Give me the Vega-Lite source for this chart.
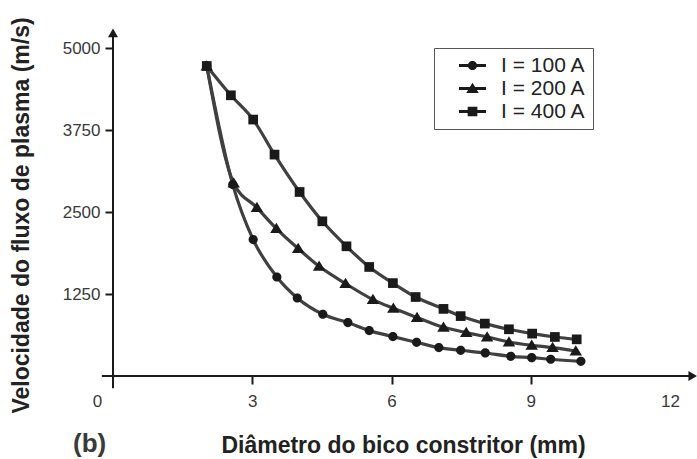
{
  "$schema": "https://vega.github.io/schema/vega-lite/v6.json",
  "width": 557,
  "height": 328,
  "autosize": {"type": "none"},
  "padding": {"left": 113, "top": 48, "right": 27, "bottom": 83},
  "background": "white",
  "config": {"view": {"stroke": null}, "font": "Liberation Sans"},
  "title": {"text": "(b)", "orient": "bottom", "anchor": "start", "frame": "group", "dx": -40, "dy": -26, "offset": 0, "fontSize": 26, "fontWeight": "bold", "color": "#3a3a3a", "font": "Liberation Sans"},
  "data": {"values": [
    {"d": 2.02, "v": 4726, "s": "I = 100 A"},
    {"d": 2.58, "v": 2918, "s": "I = 100 A"},
    {"d": 3.02, "v": 2079, "s": "I = 100 A"},
    {"d": 3.53, "v": 1509, "s": "I = 100 A"},
    {"d": 3.97, "v": 1189, "s": "I = 100 A"},
    {"d": 4.52, "v": 941, "s": "I = 100 A"},
    {"d": 5.06, "v": 814, "s": "I = 100 A"},
    {"d": 5.52, "v": 692, "s": "I = 100 A"},
    {"d": 6.03, "v": 601, "s": "I = 100 A"},
    {"d": 6.54, "v": 514, "s": "I = 100 A"},
    {"d": 7.02, "v": 433, "s": "I = 100 A"},
    {"d": 7.49, "v": 392, "s": "I = 100 A"},
    {"d": 8.02, "v": 351, "s": "I = 100 A"},
    {"d": 8.57, "v": 300, "s": "I = 100 A"},
    {"d": 9.02, "v": 280, "s": "I = 100 A"},
    {"d": 9.43, "v": 255, "s": "I = 100 A"},
    {"d": 10.08, "v": 224, "s": "I = 100 A"},
    {"d": 2.02, "v": 4726, "s": "I = 200 A"},
    {"d": 2.6, "v": 2942, "s": "I = 200 A"},
    {"d": 3.1, "v": 2567, "s": "I = 200 A"},
    {"d": 3.52, "v": 2247, "s": "I = 200 A"},
    {"d": 3.99, "v": 1942, "s": "I = 200 A"},
    {"d": 4.44, "v": 1672, "s": "I = 200 A"},
    {"d": 5.01, "v": 1409, "s": "I = 200 A"},
    {"d": 5.6, "v": 1165, "s": "I = 200 A"},
    {"d": 6.04, "v": 1032, "s": "I = 200 A"},
    {"d": 6.55, "v": 892, "s": "I = 200 A"},
    {"d": 7.12, "v": 742, "s": "I = 200 A"},
    {"d": 7.61, "v": 662, "s": "I = 200 A"},
    {"d": 8.06, "v": 595, "s": "I = 200 A"},
    {"d": 8.53, "v": 518, "s": "I = 200 A"},
    {"d": 9.02, "v": 468, "s": "I = 200 A"},
    {"d": 9.47, "v": 433, "s": "I = 200 A"},
    {"d": 9.97, "v": 381, "s": "I = 200 A"},
    {"d": 2.02, "v": 4726, "s": "I = 400 A"},
    {"d": 2.54, "v": 4279, "s": "I = 400 A"},
    {"d": 3.02, "v": 3909, "s": "I = 400 A"},
    {"d": 3.48, "v": 3375, "s": "I = 400 A"},
    {"d": 4.02, "v": 2805, "s": "I = 400 A"},
    {"d": 4.51, "v": 2358, "s": "I = 400 A"},
    {"d": 5.03, "v": 1977, "s": "I = 400 A"},
    {"d": 5.52, "v": 1662, "s": "I = 400 A"},
    {"d": 6.03, "v": 1416, "s": "I = 400 A"},
    {"d": 6.52, "v": 1204, "s": "I = 400 A"},
    {"d": 7.12, "v": 1023, "s": "I = 400 A"},
    {"d": 7.49, "v": 913, "s": "I = 400 A"},
    {"d": 8.01, "v": 799, "s": "I = 400 A"},
    {"d": 8.53, "v": 712, "s": "I = 400 A"},
    {"d": 9.03, "v": 646, "s": "I = 400 A"},
    {"d": 9.52, "v": 595, "s": "I = 400 A"},
    {"d": 9.99, "v": 559, "s": "I = 400 A"}
  ]},
  "layer": [
    {
      "data": {"values": [{}]},
      "mark": {"type": "rule", "color": "#1a1a1a", "strokeWidth": 2},
      "encoding": {
        "x": {"datum": -0.24, "type": "quantitative"},
        "x2": {"datum": 12.49},
        "y": {"datum": 0, "type": "quantitative"}
      }
    },
    {
      "data": {"values": [{}]},
      "mark": {"type": "rule", "color": "#1a1a1a", "strokeWidth": 2},
      "encoding": {
        "x": {"datum": 0, "type": "quantitative"},
        "y": {"datum": -185, "type": "quantitative"},
        "y2": {"datum": 5230}
      }
    },
    {
      "data": {"values": [{}]},
      "mark": {"type": "point", "shape": "triangle-right", "filled": true, "color": "#1a1a1a", "size": 100, "opacity": 1},
      "encoding": {
        "x": {"datum": 12.49, "type": "quantitative"},
        "y": {"datum": 0, "type": "quantitative"}
      }
    },
    {
      "data": {"values": [{}]},
      "mark": {"type": "point", "shape": "triangle-up", "filled": true, "color": "#1a1a1a", "size": 100, "opacity": 1},
      "encoding": {
        "x": {"datum": 0, "type": "quantitative"},
        "y": {"datum": 5230, "type": "quantitative"}
      }
    },
    {
      "mark": {"type": "line", "interpolate": "monotone", "color": "#404040", "strokeWidth": 3.2},
      "encoding": {
        "x": {
          "field": "d", "type": "quantitative",
          "scale": {"domain": [0, 12], "nice": false, "zero": false},
          "axis": {
            "values": [0, 3, 6, 9, 12], "domain": false, "grid": false,
            "tickSize": 8, "tickWidth": 2, "tickColor": "#1a1a1a",
            "tickOpacity": {"condition": {"test": "datum.value == 0 || datum.value == 12", "value": 0}, "value": 1},
            "labelOffset": {"condition": {"test": "datum.value == 0", "value": -16}, "value": 0},
            "labelFlush": false, "labelFontSize": 17, "labelColor": "#3a3a3a", "labelPadding": 9, "labelFont": "Liberation Sans",
            "title": "Diâmetro do bico constritor (mm)", "titleFontSize": 23, "titleFontWeight": "bold", "titleColor": "#222222", "titleFont": "Liberation Sans",
            "titleX": 290, "titleY": 76, "titleBaseline": "alphabetic", "titleAlign": "center"
          }
        },
        "y": {
          "field": "v", "type": "quantitative",
          "scale": {"domain": [0, 5000], "nice": false},
          "axis": {
            "values": [1250, 2500, 3750, 5000], "format": "d", "domain": false, "grid": false,
            "tickSize": 8, "tickWidth": 2, "tickColor": "#1a1a1a",
            "labelFlush": false, "labelFontSize": 17, "labelColor": "#3a3a3a", "labelPadding": 5, "labelFont": "Liberation Sans",
            "title": "Velocidade do fluxo de plasma (m/s)", "titleFontSize": 23, "titleFontWeight": "bold", "titleColor": "#222222", "titleFont": "Liberation Sans",
            "titleX": -85, "titleY": 167, "titleBaseline": "alphabetic", "titleAlign": "center", "titleAngle": -90
          }
        },
        "detail": {"field": "s", "type": "nominal"}
      }
    },
    {
      "mark": {"type": "point", "filled": true, "color": "#1a1a1a", "size": 100, "opacity": 1, "strokeWidth": 0},
      "encoding": {
        "x": {"field": "d", "type": "quantitative"},
        "y": {"field": "v", "type": "quantitative"},
        "shape": {
          "field": "s", "type": "nominal",
          "scale": {
            "domain": ["I = 100 A", "I = 200 A", "I = 400 A"],
            "range": [
              "M-0.92,0A0.92,0.92 0 1,1 0.92,0A0.92,0.92 0 1,1 -0.92,0Z",
              "M0,-1.15L1.25,0.9L-1.25,0.9Z",
              "M-0.97,-0.97L0.97,-0.97L0.97,0.97L-0.97,0.97Z"
            ]
          },
          "legend": null
        }
      }
    },
    {
      "transform": [{"filter": "false"}],
      "mark": {"type": "point", "filled": true, "color": "#1a1a1a", "size": 100},
      "encoding": {
        "shape": {
          "field": "s", "type": "nominal",
          "scale": {
            "domain": ["I = 100 A", "I = 200 A", "I = 400 A"],
            "range": [
              "M-2.7,-0.3L2.7,-0.3L2.7,0.3L-2.7,0.3ZM-0.92,0A0.92,0.92 0 1,1 0.92,0A0.92,0.92 0 1,1 -0.92,0Z",
              "M-2.7,-0.3L2.7,-0.3L2.7,0.3L-2.7,0.3ZM0,-1.15L1.25,0.9L-1.25,0.9Z",
              "M-2.7,-0.3L2.7,-0.3L2.7,0.3L-2.7,0.3ZM-0.97,-0.97L0.97,-0.97L0.97,0.97L-0.97,0.97Z"
            ]
          },
          "legend": {
            "orient": "none", "legendX": 321, "legendY": 0, "title": null,
            "padding": 7, "strokeColor": "#555555", "fillColor": "white",
            "symbolSize": 100, "symbolOffset": 21, "labelOffset": 18,
            "labelFontSize": 21, "labelColor": "#222222", "labelFont": "Liberation Sans",
            "symbolOpacity": 1, "symbolFillColor": "#1a1a1a", "symbolStrokeWidth": 0,
            "rowPadding": 1, "labelExpr": "datum.label + '  '"
          }
        }
      }
    }
  ],
  "resolve": {"scale": {"shape": "independent"}}
}
